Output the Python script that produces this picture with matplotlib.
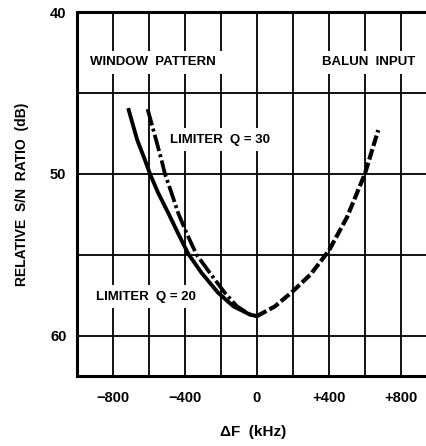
import matplotlib.pyplot as plt
import numpy as np

# curve read-offs (kHz, dB)
q20_f = [-715, -665, -622, -594, -548, -492, -437, -381, -307, -215, -131, -39, 0]
q20_db = [45.94, 47.9, 49.14, 50.0, 51.19, 52.43, 53.7, 54.95, 56.13, 57.36, 58.19, 58.7, 58.8]

q30_f = [-607, -560, -530, -511, -474, -437, -391, -335, -261, -178, -110, -39, 0]
q30_db = [46.0, 47.9, 49.14, 50.0, 51.19, 52.43, 53.66, 55.0, 56.13, 57.36, 58.2, 58.7, 58.8]

balun_f = [0, 100, 200, 300, 400, 500, 600, 674]
balun_db = [58.8, 58.2, 57.26, 56.2, 54.75, 52.7, 50.0, 47.3]

xticks = [-800, -400, 0, 400, 800]
xticklabels = ['\u2212800', '\u2212400', '0', '+400', '+800']
yticks = [40, 50, 60]

plt.rcParams['font.family'] = ['Liberation Sans', 'DejaVu Sans']
plt.rcParams['font.weight'] = 'bold'
plt.rcParams['axes.labelweight'] = 'bold'

fig = plt.figure(figsize=(4.27, 4.46), dpi=100)
ax = fig.add_axes([0.180, 0.157, 0.82, 0.816])

ax.plot(q20_f, q20_db, color='black', lw=2.8, solid_capstyle='butt')
ax.plot(q30_f, q30_db, color='black', lw=2.7, dashes=(4.5, 0.9, 0.8, 0.9))
ax.plot(balun_f, balun_db, color='black', lw=3.0, dashes=(2.6, 0.8))

ax.set_xlim(-1000, 945)
ax.set_ylim(62.5, 40)
ax.set_xticks(xticks)
ax.set_xticklabels(xticklabels)
ax.set_xticks([-600, -200, 200, 600], minor=True)
ax.set_yticks(yticks)
ax.set_yticks([45, 55], minor=True)
ax.tick_params(which='both', length=0, labelsize=10.5)
ax.tick_params(axis='x', pad=11)
ax.tick_params(axis='y', pad=7.5)
ax.grid(which='both', color='black', lw=1.3)
ax.set_axisbelow(True)

for s in ['left', 'top', 'bottom']:
    ax.spines[s].set_linewidth(2.2)
ax.spines['right'].set_visible(False)

ax.set_xlabel('\u0394F  (kHz)', fontsize=11)
ax.xaxis.set_label_coords(0.503, -0.154)
ax.xaxis.label.set_va('center')
ax.set_ylabel('RELATIVE  S/N  RATIO  (dB)', fontsize=10)
ax.yaxis.set_label_coords(-0.157, 0.5)
ax.yaxis.label.set_va('center')

box = dict(facecolor='white', edgecolor='none', pad=4)
ax.text(-575, 43.1, 'WINDOW  PATTERN', ha='center', va='center', fontsize=9.5, bbox=box)
ax.text(622, 43.1, 'BALUN  INPUT', ha='center', va='center', fontsize=9.5, bbox=box)
ax.text(-205, 47.9, 'LIMITER  Q = 30', ha='center', va='center', fontsize=9.5, bbox=box)
ax.text(-615, 57.6, 'LIMITER  Q = 20', ha='center', va='center', fontsize=9.5, bbox=box)

fig.savefig('out.png', dpi=100)
